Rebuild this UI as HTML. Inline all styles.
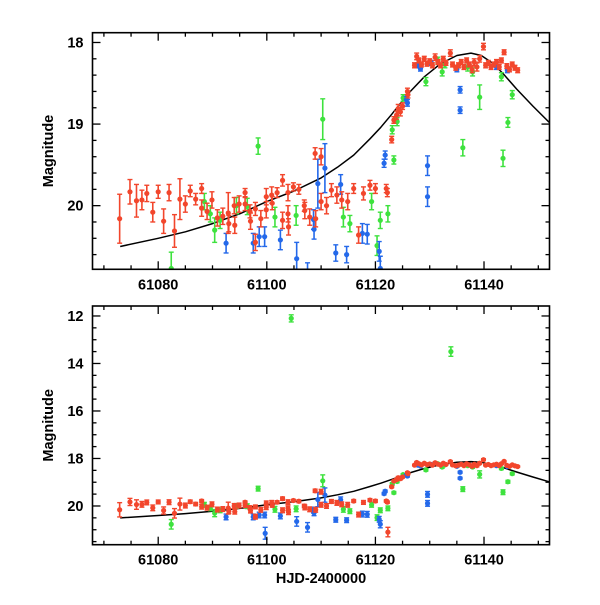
<!DOCTYPE html>
<html><head><meta charset="utf-8"><style>
html,body{margin:0;padding:0;background:#fff}
svg text{font-family:"Liberation Sans",sans-serif;font-size:14.5px;font-weight:bold;fill:#000}
</style></head><body>
<svg id="chart" width="600" height="600" xmlns="http://www.w3.org/2000/svg"></svg>
<script>
// data: [day, magnitude, error]
const redSeries = [
[61072.9,20.16,0.3],[61074.8,19.83,0.15],[61076.0,19.94,0.2],[61077.0,19.93,0.12],[61077.9,19.85,0.1],[61079.0,20.08,0.12],
[61080.0,19.83,0.08],[61081.0,20.19,0.15],[61082.0,19.84,0.1],[61083.0,20.31,0.2],[61084.0,19.92,0.25],[61085.0,19.98,0.1],
[61085.9,19.82,0.07],[61086.9,19.92,0.07],[61088.0,19.79,0.06],[61088.0,20.03,0.1],[61089.0,20.07,0.1],[61089.9,19.93,0.1],
[61090.9,20.15,0.1],[61091.9,20.13,0.1],[61092.9,20.09,0.25],[61093.0,20.22,0.1],[61094.0,20.0,0.1],[61094.1,20.24,0.1],
[61094.9,19.98,0.1],[61096.0,19.84,0.05],[61096.0,19.98,0.08],[61096.9,20.07,0.08],[61097.0,20.19,0.1],[61097.9,20.04,0.08],
[61097.9,20.45,0.1],[61098.9,20.16,0.1],[61099.9,19.89,0.1],[61099.9,20.05,0.1],[61100.9,19.87,0.1],[61101.0,19.97,0.08],
[61101.9,19.84,0.06],[61102.9,19.69,0.07],[61102.9,20.18,0.1],[61103.9,19.84,0.1],[61103.9,20.1,0.1],[61104.0,20.26,0.1],
[61104.9,19.77,0.05],[61105.9,19.8,0.06],[61106.9,20.0,0.07],[61107.0,20.06,0.1],[61107.9,20.14,0.1],[61108.9,19.36,0.07],
[61109.0,20.16,0.1],[61110.0,19.4,0.1],[61110.0,19.95,0.1],[61111.0,20.0,0.1],[61111.9,19.81,0.08],[61112.9,19.87,0.1],
[61113.8,19.93,0.1],[61114.9,19.95,0.1],[61116.0,19.79,0.06],[61116.9,20.36,0.1],[61117.8,19.85,0.08],[61119.0,19.75,0.06],
[61120.0,19.79,0.06],[61122.0,19.79,0.05],[61122.2,19.84,0.05],[61122.3,21.1,0.2],[61123.0,19.19,0.04],[61123.4,18.95,0.04],[61123.9,18.89,0.05],
[61124.2,18.81,0.05],[61124.6,18.85,0.05],[61125.0,18.78,0.04],[61125.9,18.6,0.04],[61126.0,18.64,0.04],
[61127.2,18.28,0.03],[61127.6,18.17,0.04],[61128.0,18.22,0.03],[61128.5,18.27,0.03],[61129.0,18.2,0.03],[61129.5,18.26,0.03],
[61130.0,18.23,0.03],[61130.5,18.28,0.03],[61131.0,18.18,0.04],[61131.5,18.24,0.03],[61132.0,18.28,0.03],[61132.5,18.2,0.03],
[61133.0,18.25,0.03],[61133.8,18.13,0.04],[61134.2,18.27,0.03],[61134.8,18.31,0.03],[61135.3,18.28,0.03],[61135.8,18.24,0.03],
[61136.3,18.3,0.03],[61136.8,18.22,0.03],[61137.3,18.27,0.03],[61137.8,18.33,0.04],[61138.2,18.24,0.04],[61138.7,18.3,0.05],
[61139.2,18.2,0.04],[61139.9,18.05,0.04],[61140.3,18.28,0.03],[61140.8,18.25,0.03],[61141.3,18.3,0.03],[61141.8,18.27,0.03],
[61142.3,18.24,0.03],[61142.8,18.3,0.03],[61143.2,18.22,0.03],[61143.7,18.12,0.03],[61144.2,18.29,0.03],[61144.7,18.33,0.03],
[61145.2,18.27,0.03],[61145.7,18.31,0.03],[61146.2,18.34,0.03]
];
const greenSeries = [
[61082.4,20.77,0.2],[61088.5,19.95,0.1],[61089.6,20.1,0.1],[61090.4,20.3,0.15],[61091.4,20.18,0.1],[61094.4,20.0,0.1],
[61096.4,20.01,0.1],[61098.4,19.27,0.1],[61101.5,20.14,0.12],[61104.5,12.1,0.15],[61105.4,20.12,0.12],[61110.3,18.94,0.25],
[61114.1,20.14,0.12],[61115.3,20.22,0.1],[61119.3,19.95,0.1],[61120.3,20.49,0.12],[61120.9,20.18,0.1],[61122.3,20.1,0.1],
[61123.1,19.07,0.05],[61123.4,19.44,0.05],[61124.0,18.97,0.05],[61125.1,18.68,0.04],[61129.3,18.48,0.05],[61131.5,18.22,0.04],
[61132.3,18.36,0.05],[61132.8,18.27,0.04],[61133.9,13.5,0.2],[61136.1,19.29,0.1],[61137.0,18.3,0.05],[61137.9,18.36,0.05],
[61139.2,18.67,0.15],[61143.2,18.42,0.05],[61143.5,19.42,0.1],[61144.4,18.98,0.06],[61145.2,18.64,0.05]
];
const blueSeries = [
[61092.5,20.46,0.12],[61097.5,20.46,0.12],[61098.6,20.38,0.12],[61099.6,20.38,0.12],[61099.7,21.15,0.25],[61102.5,20.42,0.12],
[61105.5,20.65,0.2],[61107.5,20.9,0.2],[61108.6,20.17,0.12],[61108.7,20.29,0.12],[61109.4,19.73,0.3],[61110.7,19.54,0.3],
[61112.7,20.58,0.1],[61113.6,19.74,0.12],[61114.7,20.6,0.1],[61117.6,20.34,0.12],[61118.5,20.35,0.12],[61120.7,20.56,0.12],[61120.9,20.77,0.15],
[61121.6,19.48,0.05],[61121.8,19.38,0.05],[61125.7,18.7,0.04],[61125.9,18.74,0.04],[61127.8,18.28,0.03],[61128.3,18.32,0.03],
[61129.6,19.51,0.12],[61129.6,19.89,0.12],[61130.3,18.25,0.03],[61135.0,18.33,0.03],[61135.6,18.58,0.04],[61135.6,18.83,0.04],
[61142.3,18.3,0.03],[61144.3,18.34,0.03]
];
const modelDays = [61073,61080,61085,61090,61095,61100,61105,61110,61113,61116,61119,61121,61123,61126,61129,61132,61135,61137.6,61139.5,61141.5,61143.5,61146,61149,61152];
const modelMags = [20.5,20.4,20.32,20.22,20.1,19.95,19.82,19.66,19.53,19.38,19.18,19.04,18.88,18.63,18.42,18.26,18.16,18.13,18.16,18.25,18.38,18.57,18.78,18.98];
const xTicks = [61080,61100,61120,61140];
const topYTicks = [18,19,20];
const botYTicks = [12,14,16,18,20];

const NS="http://www.w3.org/2000/svg";
const svg=document.getElementById('chart');
const X0=92.5,X1=549.5,D0=61067.9,D1=61152.06;
const xs=d=>X0+(d-D0)/(D1-D0)*(X1-X0);
function mk(tag,attrs,parent){const e=document.createElementNS(NS,tag);for(const k in attrs)e.setAttribute(k,attrs[k]);(parent||svg).appendChild(e);return e;}

const panels=[
 {name:'top',y0:32.7,y1:269.3,m0:17.88,m1:20.78,ticks:topYTicks,minor:0.2},
 {name:'bottom',y0:306,y1:544.7,m0:11.58,m1:21.63,ticks:botYTicks,minor:0.5}
];
const colors={red:'#f2462c',green:'#3ee23e',blue:'#2469ea'};

panels.forEach((p,pi)=>{
 const ys=m=>p.y0+(m-p.m0)/(p.m1-p.m0)*(p.y1-p.y0);
 const g=mk('g',{});
 
 
 const cp=mk('clipPath',{id:'clip'+pi},g);
 mk('rect',{x:X0,y:p.y0,width:X1-X0,height:p.y1-p.y0},cp);
 const plot=mk('g',{'clip-path':'url(#clip'+pi+')'},g);
 let d='';
 modelDays.forEach((day,i)=>{d+=(i?'L':'M')+xs(day).toFixed(1)+','+ys(modelMags[i]).toFixed(1);});
 const curve=mk('path',{d:d,fill:'none',stroke:'#000','stroke-width':1.5,'stroke-linejoin':'round'},plot);
 
 
 [['green',greenSeries],['blue',blueSeries],['red',redSeries]].forEach(([c,arr])=>{
  const sg=mk('g',{},plot);
  
  
  arr.forEach(([day,m,e])=>{
   const x=xs(day),y=ys(m),ya=ys(m-e),yb=ys(m+e);
   mk('line',{x1:x,x2:x,y1:ya,y2:yb,stroke:colors[c],'stroke-width':1.6},sg);
   mk('line',{x1:x-2.5,x2:x+2.5,y1:ya,y2:ya,stroke:colors[c],'stroke-width':1.4},sg);
   mk('line',{x1:x-2.5,x2:x+2.5,y1:yb,y2:yb,stroke:colors[c],'stroke-width':1.4},sg);
   const pt=mk('circle',{cx:x,cy:y,r:2.6,fill:colors[c]},sg);
   
   
  });
 });
 const fr=mk('rect',{x:X0,y:p.y0,width:X1-X0,height:p.y1-p.y0,fill:'none',stroke:'#000','stroke-width':1.6},g);
 
 
 for(let day=61070;day<=61150;day+=5){
  const x=xs(day),maj=(day%20===0),L=maj?8:4;
  mk('line',{x1:x,x2:x,y1:p.y1,y2:p.y1-L,stroke:'#000','stroke-width':1.3},g);
  mk('line',{x1:x,x2:x,y1:p.y0,y2:p.y0+L,stroke:'#000','stroke-width':1.3},g);
 }
 xTicks.forEach(t=>{
  const tx=mk('text',{x:xs(t),y:p.y1+20,'text-anchor':'middle'},g);tx.textContent=t;
  
  
 });
 for(let m=Math.ceil(p.m0/p.minor)*p.minor;m<=p.m1+1e-6;m+=p.minor){
  const mm=Math.round(m*10)/10,y=ys(mm);
  const maj=p.ticks.includes(mm);
  const L=maj?8:4;
  mk('line',{x1:X0,x2:X0+L,y1:y,y2:y,stroke:'#000','stroke-width':1.3},g);
  mk('line',{x1:X1,x2:X1-L,y1:y,y2:y,stroke:'#000','stroke-width':1.3},g);
 }
 p.ticks.forEach(t=>{
  const ty=mk('text',{x:X0-9,y:ys(t)+5,'text-anchor':'end'},g);ty.textContent=t;
  
  
 });
 const yl=mk('text',{x:0,y:0,'text-anchor':'middle',transform:'translate(53,'+((p.y0+p.y1)/2)+') rotate(-90)'},g);
 yl.textContent='Magnitude';
 
 
});
const xl=mk('text',{x:321,y:583,'text-anchor':'middle'});
xl.textContent='HJD-2400000';


</script>
</body></html>
